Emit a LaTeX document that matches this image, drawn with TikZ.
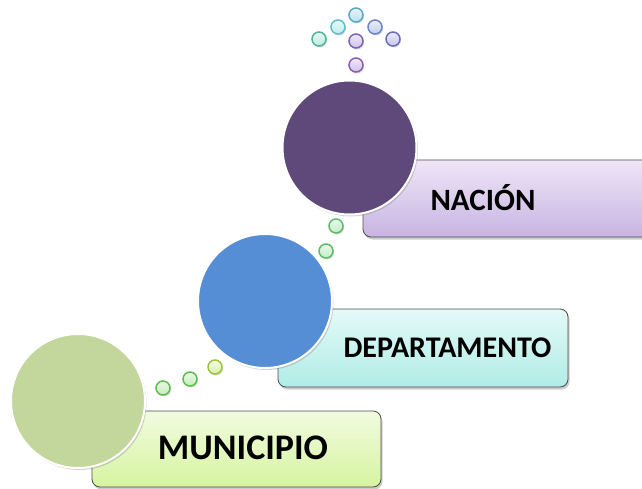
\documentclass[tikz,border=0pt]{standalone}
\usepackage{fontspec}
\setmainfont{Carlito}
\usetikzlibrary{shadows}
\definecolor{munC}{HTML}{C3D69B}
\definecolor{depC}{HTML}{558ED5}
\definecolor{nacC}{HTML}{5F497A}
\definecolor{munT}{HTML}{F1FBE0}
\definecolor{munB}{HTML}{D6F4A0}
\definecolor{depT}{HTML}{E4FAF8}
\definecolor{depB}{HTML}{B0ECE6}
\definecolor{nacT}{HTML}{EEE6F7}
\definecolor{nacB}{HTML}{C8B4E2}
% dot colours
\definecolor{gD}{HTML}{5DBB4F}\definecolor{gF}{HTML}{C4EDB8}
\definecolor{yD}{HTML}{9BC53D}\definecolor{yF}{HTML}{DDF0AE}
\definecolor{g2D}{HTML}{5CBB6A}\definecolor{g2F}{HTML}{C4EDC6}
\definecolor{t1D}{HTML}{4DB39A}\definecolor{t1F}{HTML}{BDEBDD}
\definecolor{t2D}{HTML}{5CC1C6}\definecolor{t2F}{HTML}{BDEEEE}
\definecolor{t3D}{HTML}{5BA8C4}\definecolor{t3F}{HTML}{BCE1EF}
\definecolor{t4D}{HTML}{6C85C6}\definecolor{t4F}{HTML}{C3CEEE}
\definecolor{t5D}{HTML}{6A6BBE}\definecolor{t5F}{HTML}{C6C6EE}
\definecolor{t6D}{HTML}{7B62B4}\definecolor{t6F}{HTML}{CEC2EA}
\definecolor{t7D}{HTML}{8A5DB5}\definecolor{t7F}{HTML}{D3C1EA}
\tikzset{
  bigcirc/.style={circle, draw=white, line width=2pt, minimum size=134pt, inner sep=0pt,
    drop shadow={shadow xshift=1.5pt, shadow yshift=-2pt, opacity=0.35}},
  levelbox/.style={draw=black!70, line width=0.8pt, rounded corners=8pt,
    drop shadow={shadow xshift=1.5pt, shadow yshift=-2.5pt, opacity=0.4}},
  lbl/.style={font=\bfseries, text=black, inner sep=0pt, anchor=base},
  dot/.style 2 args={circle, line width=1.5pt, minimum size=14pt, inner sep=0pt,
    draw=#1, top color=#2!35, bottom color=#2,
    drop shadow={shadow xshift=1pt, shadow yshift=-1.5pt, opacity=0.3}},
}
\begin{document}
\begin{tikzpicture}[x=1pt,y=-1pt]
\useasboundingbox (0,0) rectangle (642,489);
% boxes
\draw[levelbox, top color=munT, bottom color=munB] (92,411) rectangle (381,487);
\node[lbl] (munT) at (243,459) {\fontsize{36}{40}\selectfont MUNICIPIO};
\draw[levelbox, top color=depT, bottom color=depB] (278,309) rectangle (568,387);
\node[lbl] (depT) at (447.5,357) {\fontsize{30}{34}\selectfont DEPARTAMENTO};
\draw[levelbox, top color=nacT, bottom color=nacB] (363,160) rectangle (660,237);
\node[lbl] (nacT) at (483,210) {\fontsize{31}{36}\selectfont NACIÓN};
% circles
\node[bigcirc, fill=munC] (mun) at (78,401) {};
\node[bigcirc, fill=depC] (dep) at (265,301) {};
\node[bigcirc, fill=nacC] (nac) at (349.5,147.5) {};
% dots between municipio and departamento
\node[dot={gD}{gF}] (d1) at (163,388) {};
\node[dot={gD}{gF}] (d2) at (190,379) {};
\node[dot={yD}{yF}] (d3) at (215,367) {};
% dots between departamento and nacion
\node[dot={g2D}{g2F}] (d4) at (326,251) {};
\node[dot={g2D}{g2F}] (d5) at (336,226) {};
% top arrow of dots
\node[dot={t7D}{t7F}] (a7) at (356,65) {};
\node[dot={t6D}{t6F}] (a6) at (356,41) {};
\node[dot={t1D}{t1F}] (a1) at (319,39) {};
\node[dot={t2D}{t2F}] (a2) at (338,27) {};
\node[dot={t3D}{t3F}] (a3) at (356,15) {};
\node[dot={t4D}{t4F}] (a4) at (375,27) {};
\node[dot={t5D}{t5F}] (a5) at (393,39) {};
\end{tikzpicture}
\end{document}
